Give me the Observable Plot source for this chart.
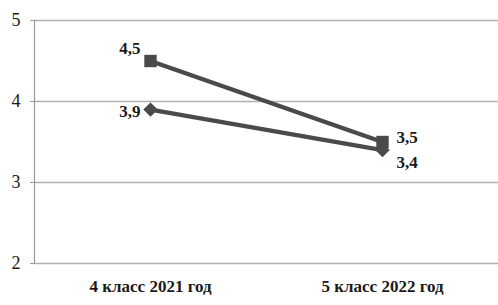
<!DOCTYPE html>
<html><head><meta charset="utf-8">
<script src="https://cdn.jsdelivr.net/npm/d3@7"></script>
<script src="https://cdn.jsdelivr.net/npm/@observablehq/plot@0.6"></script>
<style>
body{margin:0;background:#fff;}
svg text{font-family:"Liberation Serif","DejaVu Serif",serif !important;}
</style></head>
<body><div id="chart"></div>
<script>
const categories = ["4 класс 2021 год", "5 класс 2022 год"];
const seriesA = [4.5, 3.5];   // squares
const seriesB = [3.9, 3.4];   // diamonds
const yTicks = [2, 3, 4, 5];

const fmt = v => String(v).replace(".", ",");
const dataA = categories.map((c, i) => ({cat: c, v: seriesA[i]}));
const dataB = categories.map((c, i) => ({cat: c, v: seriesB[i]}));

const chart = Plot.plot({
  width: 498, height: 305,
  marginLeft: 34, marginRight: 0, marginTop: 20, marginBottom: 42,
  style: {fontFamily: "Liberation Serif, DejaVu Serif, serif", fontSize: "16px", color: "#1a1a1a", background: "#fff"},
  x: {type: "point", domain: categories, padding: 0.5, label: null},
  y: {domain: [2, 5], label: null},
  marks: [
    Plot.ruleY(yTicks, {stroke: "#b0b0b0", strokeWidth: 1.3}),
    Plot.frame({anchor: "left", stroke: "#999", strokeWidth: 1.2}),
    Plot.axisX({tickSize: 0, tickPadding: 16, fontWeight: "bold", fontSize: 17}),
    Plot.axisY({ticks: yTicks, tickFormat: d => String(d), tickSize: 4, stroke: "#999", tickPadding: 10, fontSize: 18}),
    Plot.line(dataA, {x: "cat", y: "v", stroke: "#4a4a4a", strokeWidth: 4.5}),
    Plot.line(dataB, {x: "cat", y: "v", stroke: "#4a4a4a", strokeWidth: 4.5}),
    Plot.dot(dataA, {x: "cat", y: "v", symbol: "square", r: 7, fill: "#4a4a4a"}),
    Plot.dot(dataB, {x: "cat", y: "v", symbol: "diamond2", r: 6.5, fill: "#4a4a4a"}),
    Plot.text([dataA[0]], {x: "cat", y: "v", text: d => fmt(d.v), dx: -10, dy: -12, textAnchor: "end", fontWeight: "bold", fontSize: 17}),
    Plot.text([dataB[0]], {x: "cat", y: "v", text: d => fmt(d.v), dx: -10, dy: 2, textAnchor: "end", fontWeight: "bold", fontSize: 17}),
    Plot.text([dataA[1]], {x: "cat", y: "v", text: d => fmt(d.v), dx: 14, dy: -4, textAnchor: "start", fontWeight: "bold", fontSize: 17}),
    Plot.text([dataB[1]], {x: "cat", y: "v", text: d => fmt(d.v), dx: 14, dy: 12, textAnchor: "start", fontWeight: "bold", fontSize: 17})
  ]
});
document.getElementById("chart").append(chart);
</script>
</body></html>
